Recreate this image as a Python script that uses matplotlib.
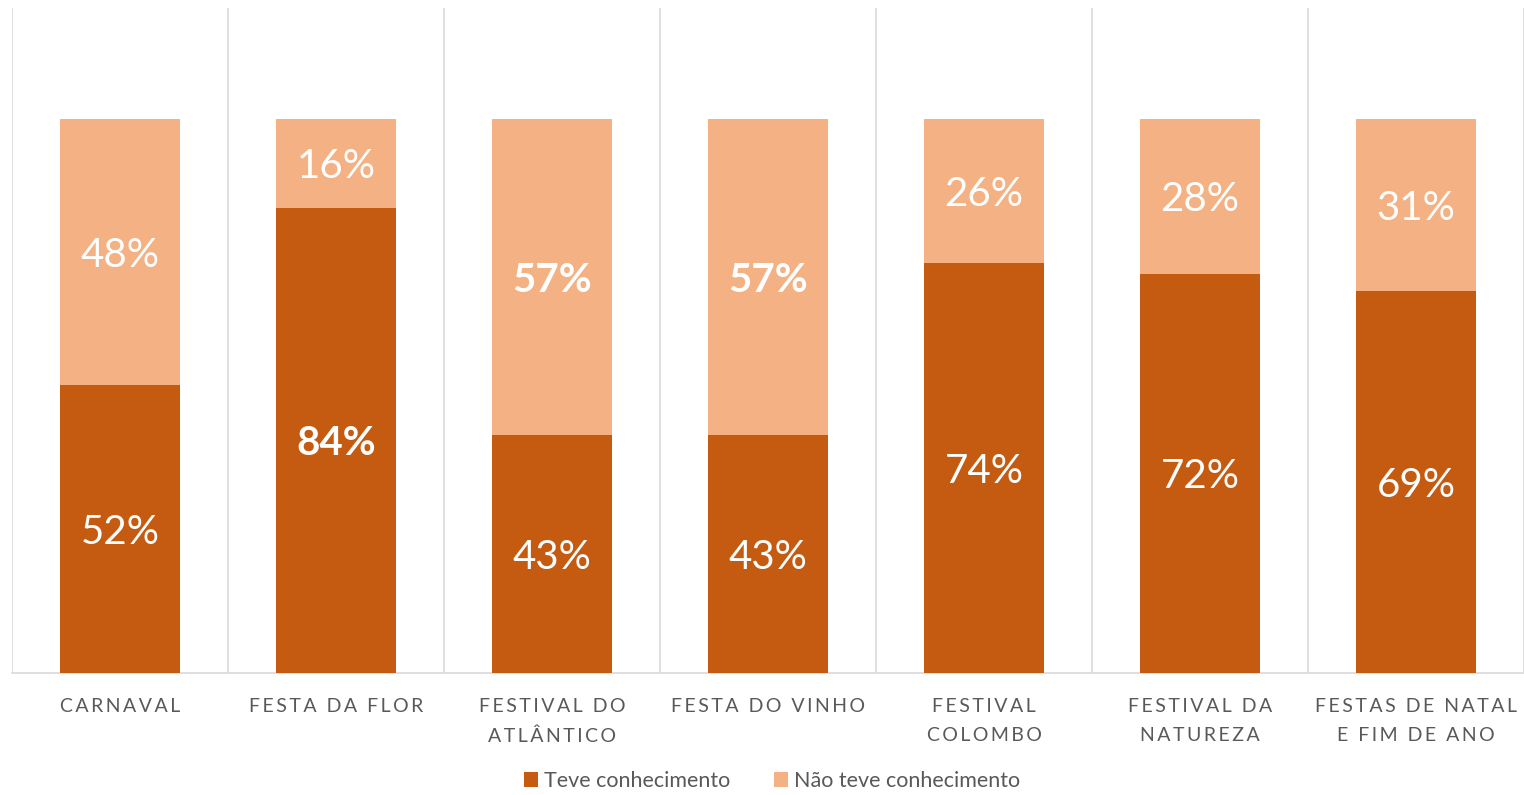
import matplotlib
matplotlib.use("Agg")
import matplotlib.pyplot as plt
from matplotlib.patches import Patch

plt.rcParams['font.family'] = ['Lato', 'DejaVu Sans']

categories = ["CARNAVAL", "FESTA DA FLOR", "FESTIVAL DO\nATLÂNTICO", "FESTA DO VINHO",
              "FESTIVAL\nCOLOMBO", "FESTIVAL DA\nNATUREZA", "FESTAS DE NATAL\nE FIM DE ANO"]
teve = [52, 84, 43, 43, 74, 72, 69]
nao_teve = [48, 16, 57, 57, 26, 28, 31]
teve_bold = [False, True, False, False, False, False, False]
nao_bold = [False, False, True, True, False, False, False]
series_names = ["Teve conhecimento", "Não teve conhecimento"]

c_dark = "#C55A11"
c_light = "#F4B183"
grid_c = "#D9D9D9"
text_c = "#595959"

def spaced(s):
    lines = s.split("\n")
    out = []
    for ln in lines:
        out.append("\u2009".join(list(ln)))
    return "\n".join(out)

fig = plt.figure(figsize=(15.24, 7.95), dpi=100)
ax = fig.add_axes([12/1524, 1 - 673/795, (1524 - 12)/1524, (673 - 8)/795])

x = list(range(len(categories)))
w = 0.556
ax.bar(x, teve, width=w, color=c_dark, zorder=3)
ax.bar(x, nao_teve, width=w, bottom=teve, color=c_light, zorder=3)

for i in x:
    ax.text(i, teve[i] / 2, f"{teve[i]}%", ha="center", va="center_baseline", color="white",
            fontsize=29, fontweight="bold" if teve_bold[i] else "normal", zorder=4)
    ax.text(i, teve[i] + nao_teve[i] / 2, f"{nao_teve[i]}%", ha="center", va="center_baseline",
            color="white", fontsize=29, fontweight="bold" if nao_bold[i] else "normal", zorder=4)

ax.set_xlim(-0.5, len(categories) - 0.5)
ax.set_ylim(0, 120)
for b in range(len(categories) + 1):
    ax.axvline(b - 0.5, color=grid_c, lw=1.2, zorder=1)

for s in ["top", "right", "left"]:
    ax.spines[s].set_visible(False)
ax.spines["bottom"].set_color(grid_c)
ax.spines["bottom"].set_linewidth(1.2)
ax.set_yticks([])
ax.set_xticks(x)
ax.set_xticklabels([spaced(c) for c in categories], color=text_c, fontsize=14,
                   linespacing=1.85, va="top")
ax.tick_params(axis="x", length=0, pad=18)

handles = [Patch(facecolor=c_dark), Patch(facecolor=c_light)]
fig.legend(handles, series_names, loc="center", bbox_to_anchor=(772/1524, 1 - 781/795),
           ncol=2, frameon=False, fontsize=15.5, labelcolor=text_c, handlelength=0.65,
           handleheight=0.65, handletextpad=0.3, columnspacing=2.0)

fig.savefig("out.png", dpi=100)
